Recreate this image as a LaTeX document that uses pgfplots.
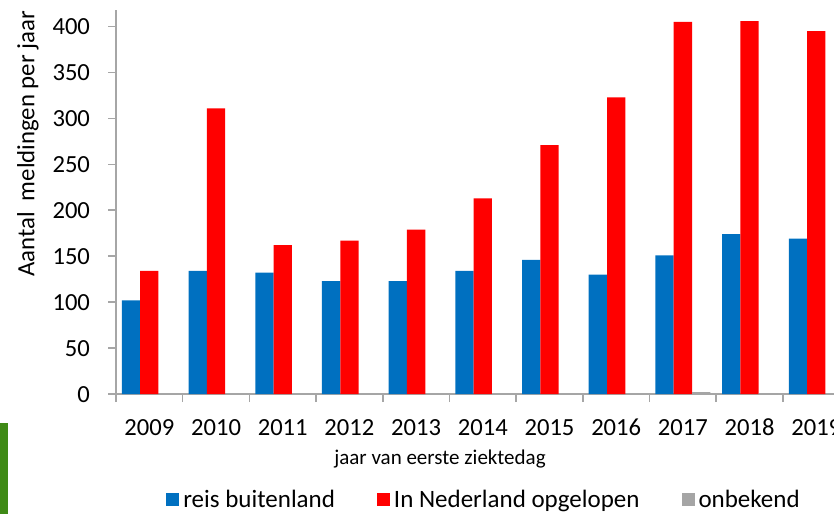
\documentclass[border=0pt]{standalone}
\usepackage{pgfplots}
\pgfplotsset{compat=1.18}
\usepackage{fontspec}
\setmainfont{Carlito}
\definecolor{cblue}{HTML}{0070C0}
\definecolor{cred}{HTML}{FF0000}
\definecolor{cgray}{HTML}{A5A5A5}
\definecolor{axgray}{HTML}{A6A6A6}
\definecolor{cgreen}{HTML}{3F8A16}
\begin{document}
\begin{tikzpicture}
\fill[cgreen] (0,0) rectangle (4pt,45.5pt);
\begin{axis}[
  at={(58pt,60pt)}, anchor=south west,
  scale only axis, width=366.8pt, height=192pt,
  xmin=-0.5, xmax=10.5, ymin=0, ymax=418,
  axis x line=bottom, axis y line=left,
  axis line style={-, draw=axgray, line width=0.8pt},
  tick align=outside,
  major tick length=4pt, minor tick length=4pt,
  tick style={draw=axgray, line width=0.8pt},
  xtick={0,...,10},
  xticklabels={2009,2010,2011,2012,2013,2014,2015,2016,2017,2018,2019},
  major x tick style={draw=none},
  minor xtick={-0.5,0.5,...,10.5},
  ytick={0,50,...,400},
  /pgf/number format/assume math mode=true,
  ticklabel style={font=\fontsize{12.3}{14}\selectfont},
  xticklabel style={yshift=-5pt, text height=8pt, text depth=0pt},
  yticklabel style={xshift=-5.5pt, text height=8pt, text depth=0pt},
  xlabel={jaar van eerste ziektedag},
  xlabel style={at={(axis description cs:0.4416,0)}, anchor=center, yshift=-32.5pt, font=\fontsize{10.5}{12}\selectfont},
  ylabel={Aantal\ \ meldingen per jaar},
  ylabel style={at={(axis description cs:0,0.651)}, anchor=center, yshift=44pt, font=\fontsize{12.4}{14}\selectfont},
  ybar=0pt, bar width=9.15pt,
  legend style={at={(0.503,-0.276)}, anchor=center, draw=none, legend columns=3,
    /tikz/every even column/.append style={column sep=19pt},
    font=\fontsize{12.5}{14}\selectfont},
  legend image code/.code={\fill[#1] (0pt,-3.25pt) rectangle (6.5pt,3.25pt);},
  legend cell align=left,
]
\addplot[fill=cblue, draw=none] coordinates {(0,102) (1,134) (2,132) (3,123) (4,123) (5,134) (6,146) (7,130) (8,151) (9,174) (10,169)};
\addplot[fill=cred, draw=none] coordinates {(0,134) (1,311) (2,162) (3,167) (4,179) (5,213) (6,271) (7,323) (8,405) (9,406) (10,395)};
\addplot[fill=cgray, draw=none] coordinates {(0,0) (1,0) (2,0) (3,0) (4,0) (5,0) (6,0) (7,0) (8,2) (9,1) (10,0)};
\legend{reis buitenland, In Nederland opgelopen, onbekend}
\end{axis}
\pgfresetboundingbox
\path[use as bounding box] (0,0) rectangle (417pt,257pt);
\end{tikzpicture}
\end{document}
